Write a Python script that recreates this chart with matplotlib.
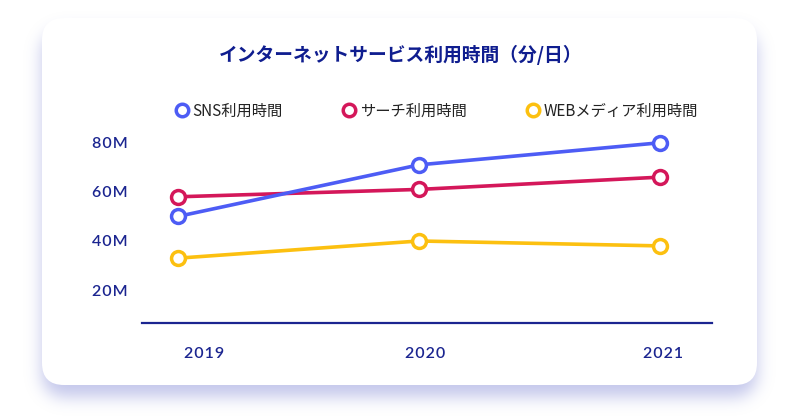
import matplotlib
matplotlib.use("Agg")
import matplotlib.pyplot as plt
import matplotlib.transforms as mtransforms
import numpy as np
from matplotlib.patches import FancyBboxPatch
from matplotlib.lines import Line2D

plt.rcParams["font.family"] = ["Noto Sans CJK JP", "DejaVu Sans"]

# ── data ──────────────────────────────────────────────────────────────
years = ["2019", "2020", "2021"]
sns_minutes = [50, 71, 80]
search_minutes = [58, 61, 66]
web_minutes = [33, 40, 38]
series_names = ["SNS利用時間", "サーチ利用時間", "WEBメディア利用時間"]
y_ticks = [20, 40, 60, 80]
y_tick_labels = ["20M", "40M", "60M", "80M"]
title = "インターネットサービス利用時間（分/日）"

# ── colours ───────────────────────────────────────────────────────────
NAVY = "#1b2590"
BLUE = "#4d5cf5"
CRIMSON = "#d4175a"
YELLOW = "#fcc010"
SHADOW = (0.58, 0.60, 0.86)

W, H = 800, 420
fig = plt.figure(figsize=(W / 100, H / 100), dpi=100, facecolor="white")


def spaced(s):
    # crude letter spacing, the original uses a tracked geometric face
    return "\u200a".join(s)


def rounded_mask(x0, y0, w, h, r):
    yy, xx = np.mgrid[0:H, 0:W] + 0.5
    dx = np.maximum(np.maximum(x0 + r - xx, xx - (x0 + w - r)), 0)
    dy = np.maximum(np.maximum(y0 + r - yy, yy - (y0 + h - r)), 0)
    return (np.hypot(dx, dy) <= r).astype(float)


def blur(img, sigma):
    k = np.arange(-3 * sigma, 3 * sigma + 1)
    k = np.exp(-0.5 * (k / sigma) ** 2)
    k /= k.sum()
    img = np.apply_along_axis(lambda m: np.convolve(m, k, mode="same"), 0, img)
    img = np.apply_along_axis(lambda m: np.convolve(m, k, mode="same"), 1, img)
    return img


# ── card + soft shadow (pixel coordinates) ───────────────────────────
bg = fig.add_axes([0, 0, 1, 1])
bg.set_xlim(0, W)
bg.set_ylim(H, 0)
bg.axis("off")

cx, cy, cw, ch, rad = 42, 18, 715, 367, 22
shadow = blur(rounded_mask(cx, cy + 12, cw, ch, rad), 8)
rgba = np.zeros((H, W, 4))
rgba[..., :3] = SHADOW
rgba[..., 3] = shadow * 0.55
bg.imshow(rgba, extent=(0, W, H, 0), interpolation="bilinear", zorder=0)
bg.add_patch(
    FancyBboxPatch(
        (cx, cy), cw, ch,
        boxstyle=f"round,pad=0,rounding_size={rad}",
        fc="white", ec="none", zorder=1,
    )
)
bg.set_xlim(0, W)
bg.set_ylim(H, 0)

# ── plot area ────────────────────────────────────────────────────────
ax = fig.add_axes([142 / W, (H - 323) / H, 570 / W, 193 / H])
ax.patch.set_alpha(0)
x = list(range(len(years)))

for vals, col in [(web_minutes, YELLOW), (search_minutes, CRIMSON), (sns_minutes, BLUE)]:
    ax.plot(
        x, vals,
        color=col, lw=2.6,
        marker="o", markersize=10, markerfacecolor="white",
        markeredgecolor=col, markeredgewidth=2.5,
        solid_capstyle="round", zorder=3,
    )

ax.set_xlim(-0.149, 2.216)
ax.set_ylim(6.6, 85.2)

for side in ["top", "right", "left"]:
    ax.spines[side].set_visible(False)
ax.spines["bottom"].set_color(NAVY)
ax.spines["bottom"].set_linewidth(1.6)

ax.set_yticks(y_ticks)
ax.set_yticklabels([spaced(s) for s in y_tick_labels])
ax.set_xticks(x)
ax.set_xticklabels([spaced(s) for s in years])
ax.tick_params(axis="y", length=0, pad=10, labelsize=11.5, labelcolor=NAVY)
ax.tick_params(axis="x", length=0, pad=17, labelsize=11.5, labelcolor=NAVY)
for lab in ax.get_yticklabels() + ax.get_xticklabels():
    lab.set_fontfamily(["Lato", "DejaVu Sans"])
    lab.set_fontweight("semibold")

# nudge year labels to where they sit in the original
for lab, dx in zip(ax.get_xticklabels(), [26, 6, 3]):
    lab.set_transform(lab.get_transform() + mtransforms.ScaledTranslation(dx / 100, 0, fig.dpi_scale_trans))

# ── title ────────────────────────────────────────────────────────────
fig.text(401 / W, 1 - 55 / H, title, ha="center", va="center",
         fontsize=13.5, fontweight="bold", color="#0f1d8f")

# ── legend ───────────────────────────────────────────────────────────
handles = [
    Line2D([0], [0], ls="none", marker="o", markersize=9, markerfacecolor="white",
           markeredgecolor=c, markeredgewidth=2.5, label=n)
    for c, n in zip([BLUE, CRIMSON, YELLOW], series_names)
]
leg = fig.legend(
    handles=handles, ncol=3, loc="center left",
    bbox_to_anchor=(175 / W, 1 - 111 / H),
    frameon=False, fontsize=11, handlelength=0.9, handletextpad=0.25,
    columnspacing=3.9, borderpad=0, borderaxespad=0,
)
for t in leg.get_texts():
    t.set_color("#222222")

fig.savefig("out.png", dpi=100, facecolor="white")
